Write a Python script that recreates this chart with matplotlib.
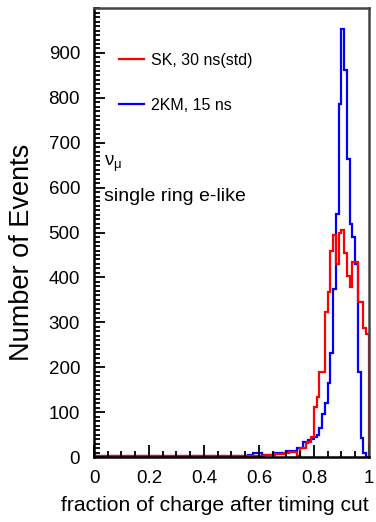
import numpy as np
import matplotlib
matplotlib.use("Agg")
import matplotlib.pyplot as plt
from matplotlib.ticker import MultipleLocator

plt.rcParams['font.family'] = ['Liberation Sans', 'DejaVu Sans']
plt.rcParams['mathtext.fontset'] = 'custom'
plt.rcParams['mathtext.rm'] = 'Liberation Sans'
plt.rcParams['mathtext.it'] = 'Liberation Sans'

# 100 bins of 0.01 in "fraction of charge after timing cut"
bin_edges = np.linspace(0.0, 1.0, 101)

# SK, 30 ns (std)
sk_counts = [
    3, 3, 3, 3, 3, 3, 3, 3, 3, 3,
    3, 3, 3, 3, 3, 3, 3, 3, 3, 3,
    3, 3, 3, 3, 3, 3, 3, 3, 3, 3,
    3, 3, 3, 3, 3, 3, 3, 3, 3, 3,
    3, 3, 3, 3, 3, 3, 3, 3, 3, 3,
    3, 3, 3, 3, 3, 3, 3, 3, 3, 3,
    3, 3, 4, 4, 5, 5, 6, 6, 7, 8,
    8, 12, 12, 12, 2, 20, 20, 31, 34, 45,
    112, 134, 190, 190, 323, 367, 458, 495, 430, 500,
    506, 455, 404, 378, 434, 434, 345, 345, 288, 273,
]

# 2KM, 15 ns
km_counts = [
    2, 2, 2, 2, 2, 2, 2, 2, 2, 2,
    2, 2, 2, 2, 2, 2, 2, 2, 2, 2,
    2, 2, 2, 2, 2, 2, 2, 2, 2, 2,
    2, 2, 2, 2, 2, 2, 2, 2, 2, 2,
    2, 2, 2, 2, 2, 2, 2, 2, 2, 2,
    2, 2, 2, 2, 3, 3, 4, 5, 8, 8,
    8, 5, 5, 5, 5, 9, 9, 9, 9, 10,
    14, 14, 14, 14, 20, 20, 34, 34, 38, 40,
    45, 48, 64, 95, 120, 165, 231, 375, 541, 787,
    953, 862, 664, 518, 490, 430, 190, 42, 10, 0,
]

fig = plt.figure(figsize=(3.76, 5.22), dpi=100)
ax = fig.add_axes([0.25, 0.1245, 0.731, 0.860])

ax.stairs(km_counts, bin_edges, color='#0000ff', lw=1.6, label='2KM, 15 ns')
ax.stairs(sk_counts, bin_edges, color='#ff0000', lw=1.6, label='SK, 30 ns(std)')

ax.set_xlim(0, 1)
ax.set_ylim(0, 1000)

ax.xaxis.set_major_locator(MultipleLocator(0.2))
ax.xaxis.set_minor_locator(MultipleLocator(0.05))
ax.yaxis.set_major_locator(MultipleLocator(100))
ax.yaxis.set_minor_locator(MultipleLocator(10))
ax.set_xticks([0, 0.2, 0.4, 0.6, 0.8, 1.0], ['0', '0.2', '0.4', '0.6', '0.8', '1'])
ax.set_yticks(range(0, 1000, 100))

ax.tick_params(axis='both', which='both', direction='in', top=False, right=False, width=1.3)
ax.tick_params(axis='both', which='major', length=8, labelsize=13.5)
ax.tick_params(axis='both', which='minor', length=4)
ax.tick_params(axis='x', which='major', pad=9, length=9)
ax.tick_params(axis='y', which='major', pad=10)

for side in ['left', 'bottom']:
    ax.spines[side].set_linewidth(1.8)
    ax.spines[side].set_color('black')
for side in ['top', 'right']:
    ax.spines[side].set_linewidth(1.8)
    ax.spines[side].set_color('#444444')

ax.set_xlabel('fraction of charge after timing cut', fontsize=15.2, loc='right', labelpad=7)
ax.set_ylabel('Number of Events', fontsize=19.5)
ax.yaxis.set_label_coords(-0.215, 0.455)

handles, labels = ax.get_legend_handles_labels()
ax.legend(handles[::-1], labels[::-1], loc='upper left', bbox_to_anchor=(0.09, 0.9),
          frameon=False, fontsize=11.5, handlelength=1.6, handletextpad=0.45,
          labelspacing=1.85, borderpad=0, borderaxespad=0)

ax.text(0.036, 0.652, r'$\nu_{\mu}$', transform=ax.transAxes, fontsize=13.5, va='center')
ax.text(0.036, 0.581, 'single ring e-like', transform=ax.transAxes, fontsize=14, va='center')

fig.savefig('out.png', dpi=100)
